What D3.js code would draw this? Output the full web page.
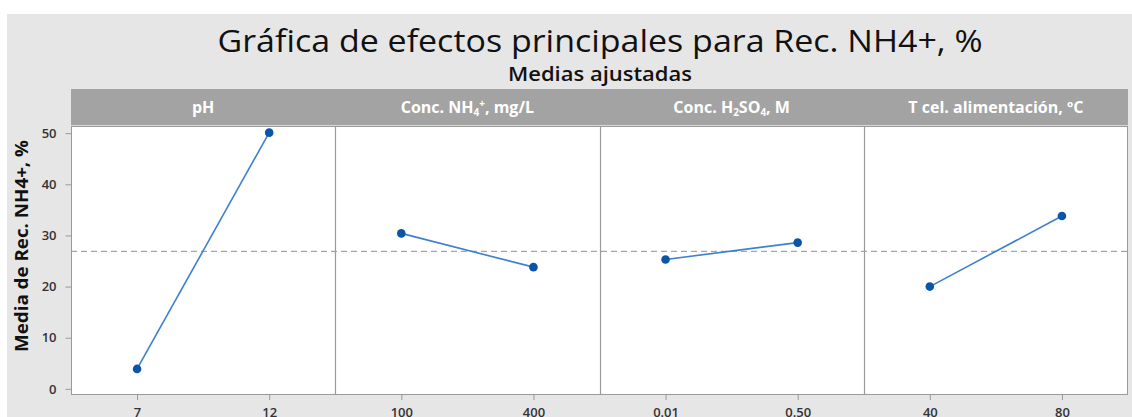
<!DOCTYPE html>
<html>
<head>
<meta charset="utf-8">
<script src="https://cdn.jsdelivr.net/npm/d3@7"></script>
<style>
  html, body { margin: 0; padding: 0; background: #ffffff; }
  svg { display: block; font-family: "Open Sans", "Noto Sans", sans-serif; }
</style>
</head>
<body>
<svg id="chart" width="1132" height="417"></svg>
<script>
// Factor levels and fitted means of Rec. NH4+ (%) for each factor
const phLevels = ["7", "12"];
const phMeans = [3.9, 50.1];
const nh4Levels = ["100", "400"];
const nh4Means = [30.4, 23.8];
const h2so4Levels = ["0.01", "0.50"];
const h2so4Means = [25.3, 28.6];
const tempLevels = ["40", "80"];
const tempMeans = [20.0, 33.8];
const grandMean = 26.9;
const yTicks = [0, 10, 20, 30, 40, 50];

const factors = [
  { key: "ph", levels: phLevels, means: phMeans,
    header: [{ t: "pH" }] },
  { key: "nh4", levels: nh4Levels, means: nh4Means,
    header: [{ t: "Conc. NH" }, { t: "4", sub: true }, { t: "+", sup: true }, { t: ", mg/L" }] },
  { key: "h2so4", levels: h2so4Levels, means: h2so4Means,
    header: [{ t: "Conc. H" }, { t: "2", sub: true }, { t: "SO" }, { t: "4", sub: true }, { t: ", M" }] },
  { key: "temp", levels: tempLevels, means: tempMeans,
    header: [{ t: "T cel. alimentación, ºC" }] }
];

const svg = d3.select("#chart");
const W = 1132, H = 417;

// Outer frame background
svg.append("rect").attr("x", 7).attr("y", 14).attr("width", W - 7).attr("height", H - 14)
  .attr("fill", "#e6e6e6");

// Titles
svg.append("text").attr("x", 600).attr("y", 52).attr("text-anchor", "middle")
  .attr("font-size", 31).attr("fill", "#111")
  .attr("textLength", 765).attr("lengthAdjust", "spacingAndGlyphs")
  .text("Gráfica de efectos principales para Rec. NH4+, %");
svg.append("text").attr("x", 600).attr("y", 81).attr("text-anchor", "middle")
  .attr("font-size", 19).attr("font-weight", 600).attr("fill", "#111")
  .attr("textLength", 184).attr("lengthAdjust", "spacingAndGlyphs")
  .text("Medias ajustadas");

// Plot geometry
const plotL = 71, plotR = 1128, plotT = 126, plotB = 395, headerT = 89;
const panelW = (plotR - plotL) / factors.length;

const y = d3.scaleLinear().domain([-1.2, 51.4]).range([plotB, plotT]);

// Header strip
svg.append("rect").attr("x", plotL).attr("y", headerT)
  .attr("width", plotR - plotL).attr("height", plotT - headerT)
  .attr("fill", "#a3a3a3");
svg.append("line").attr("x1", plotL).attr("x2", plotR).attr("y1", plotT - 0.5).attr("y2", plotT - 0.5)
  .attr("stroke", "#d8d8d8").attr("stroke-width", 1);

// Plot area
svg.append("rect").attr("x", plotL).attr("y", plotT)
  .attr("width", plotR - plotL).attr("height", plotB - plotT)
  .attr("fill", "#ffffff");

// Y axis
const yAxis = d3.axisLeft(y).tickValues(yTicks).tickSize(6).tickPadding(9).tickFormat(d3.format("d"));
const yg = svg.append("g").attr("transform", `translate(${plotL + 0.5},0)`).call(yAxis);
yg.select(".domain").attr("stroke", "#9a9a9a").attr("d", `M0,${plotT}V${plotB}`);
yg.selectAll(".tick line").attr("stroke", "#9a9a9a");
yg.selectAll(".tick text").attr("font-size", 13).attr("font-weight", 600).attr("fill", "#333")
  .attr("font-family", "'Open Sans', sans-serif");

svg.append("text")
  .attr("transform", "translate(28,246) rotate(-90)")
  .attr("text-anchor", "middle").attr("font-size", 17.5).attr("font-weight", 700).attr("fill", "#111")
  .attr("textLength", 212).attr("lengthAdjust", "spacingAndGlyphs")
  .text("Media de Rec. NH4+, %");

// Reference line at the overall mean
svg.append("line").attr("x1", plotL).attr("x2", plotR)
  .attr("y1", y(grandMean)).attr("y2", y(grandMean))
  .attr("stroke", "#a6a6a6").attr("stroke-width", 1.3).attr("stroke-dasharray", "6,4");

factors.forEach((f, i) => {
  const x0 = plotL + i * panelW, x1 = x0 + panelW;
  const x = d3.scalePoint().domain(f.levels).range([x0, x1]).padding(0.5);
  const g = svg.append("g");

  // header label with sub/superscripts
  const ht = g.append("text").attr("x", (x0 + x1) / 2).attr("y", 113)
    .attr("text-anchor", "middle").attr("font-size", 16).attr("font-weight", 700)
    .attr("fill", "#ffffff");
  let shift = 0;
  f.header.forEach(p => {
    const ts = ht.append("tspan").text(p.t);
    const want = p.sub ? 3 : p.sup ? -6 : 0;
    if (p.sub || p.sup) ts.attr("font-size", 10);
    ts.attr("dy", want - shift);
    shift = want;
  });

  // x axis
  const xAxis = d3.axisBottom(x).tickSize(5).tickPadding(8);
  const xg = g.append("g").attr("transform", `translate(0,${plotB})`).call(xAxis);
  xg.select(".domain").remove();
  xg.selectAll(".tick line").attr("stroke", "#9a9a9a");
  xg.selectAll(".tick text").attr("font-size", 13).attr("font-weight", 600).attr("fill", "#333")
    .attr("font-family", "'Open Sans', sans-serif");

  // effect line and markers
  const pts = f.levels.map((l, k) => [x(l), y(f.means[k])]);
  g.append("path").attr("d", d3.line()(pts)).attr("fill", "none")
    .attr("stroke", "#3d7fd0").attr("stroke-width", 1.6);
  g.selectAll("circle").data(pts).join("circle")
    .attr("cx", d => d[0]).attr("cy", d => d[1]).attr("r", 4.3)
    .attr("fill", "#0a55a8");
});

// Panel borders and dividers
svg.append("rect").attr("x", plotL + 0.5).attr("y", plotT + 0.5)
  .attr("width", plotR - plotL - 1).attr("height", plotB - plotT - 1)
  .attr("fill", "none").attr("stroke", "#9a9a9a");
for (let i = 1; i < factors.length; i++) {
  const xd = Math.round(plotL + i * panelW) + 0.5;
  svg.append("line").attr("x1", xd).attr("x2", xd).attr("y1", plotT).attr("y2", plotB)
    .attr("stroke", "#9a9a9a").attr("stroke-width", 1.2);
}
</script>
</body>
</html>
